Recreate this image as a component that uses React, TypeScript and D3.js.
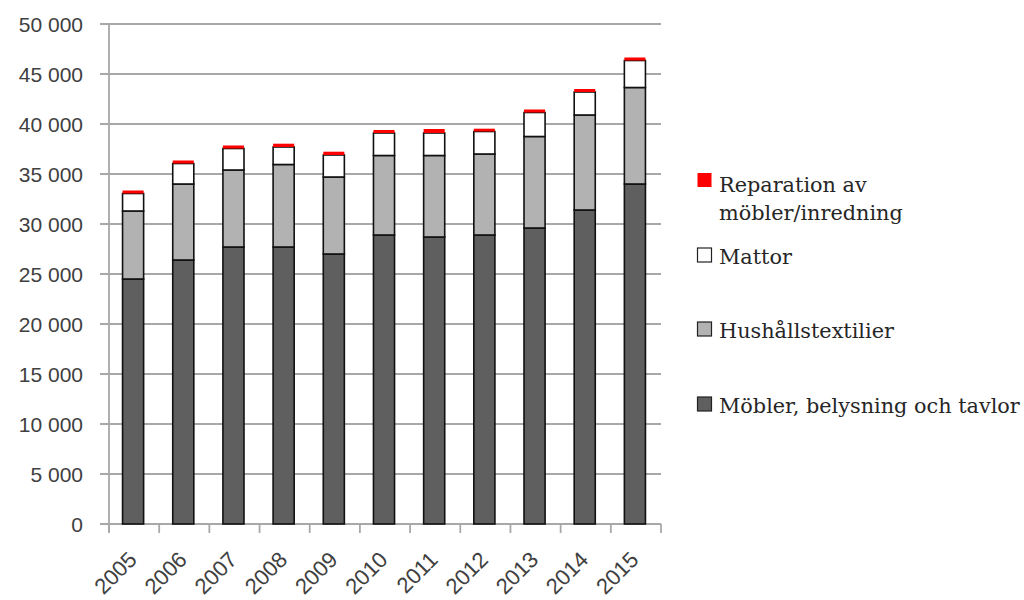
import React from "react";
import * as d3 from "d3";

const years = ["2005", "2006", "2007", "2008", "2009", "2010", "2011", "2012", "2013", "2014", "2015"];
const mobler = [24500, 26400, 27700, 27700, 27000, 28900, 28700, 28900, 29600, 31400, 34000];
const hushall = [6800, 7600, 7700, 8250, 7700, 7950, 8150, 8100, 9150, 9500, 9650];
const mattor = [1750, 2050, 2150, 1750, 2200, 2250, 2250, 2250, 2400, 2300, 2700];
const reparation = [300, 300, 300, 330, 330, 300, 400, 280, 300, 300, 300];
const yTicks = [0, 5000, 10000, 15000, 20000, 25000, 30000, 35000, 40000, 45000, 50000];

const seriesKeys = ["mobler", "hushall", "mattor", "reparation"];
const seriesLabels: Record<string, string[]> = {
  reparation: ["Reparation av", "möbler/inredning"],
  mattor: ["Mattor"],
  hushall: ["Hushållstextilier"],
  mobler: ["Möbler, belysning och tavlor"],
};
const seriesFill: Record<string, string> = {
  mobler: "#5f5f5f",
  hushall: "#b2b2b2",
  mattor: "#ffffff",
  reparation: "#ff0000",
};

export default function App() {
  const table = years.map((y, i) => ({
    year: y,
    mobler: mobler[i],
    hushall: hushall[i],
    mattor: mattor[i],
    reparation: reparation[i],
  }));
  const stacked = d3.stack<any>().keys(seriesKeys)(table);

  const x = d3.scaleBand<string>().domain(years).range([109, 661]).paddingInner(0).paddingOuter(0);
  const y = d3.scaleLinear().domain([0, 50000]).range([524, 24]);
  const barW = x.bandwidth() * 0.42;
  const fmt = (v: number) => d3.format(",")(v).replace(/,/g, " ");

  const legendItems = [
    { key: "reparation", box: 173, base: [192, 220] },
    { key: "mattor", box: 248, base: [264] },
    { key: "hushall", box: 322, base: [338] },
    { key: "mobler", box: 397, base: [413] },
  ];

  return (
    <svg width={1024} height={600} style={{ position: "absolute", left: 0, top: 0, background: "#fff" }}>
      <rect x={0} y={0} width={1024} height={600} fill="#fff" />
      {/* gridlines */}
      {yTicks.map((t) => (
        <g key={t}>
          <line x1={100} x2={661} y1={y(t)} y2={y(t)} stroke="#a8a8a8" strokeWidth={1.8} />
          <text
            x={83}
            y={y(t)}
            dy="0.36em"
            textAnchor="end"
            fontFamily="'Liberation Sans', Arial, sans-serif"
            fontSize={21}
            fill="#404040"
          >
            {fmt(t)}
          </text>
        </g>
      ))}
      {/* y axis line */}
      <line x1={109} x2={109} y1={24} y2={532} stroke="#a8a8a8" strokeWidth={1.8} />
      {/* x ticks */}
      {years.map((yr) => (
        <line key={yr} x1={x(yr)!} x2={x(yr)!} y1={524} y2={533} stroke="#a8a8a8" strokeWidth={1.8} />
      ))}
      <line x1={661} x2={661} y1={524} y2={533} stroke="#a8a8a8" strokeWidth={1.8} />
      {/* bars */}
      {stacked.map((layer) => (
        <g key={layer.key}>
          {layer.map((d, i) => {
            const cx = x(years[i])! + x.bandwidth() / 2 - 1;
            const top = y(d[1]);
            const h = y(d[0]) - y(d[1]);
            const isRed = layer.key === "reparation";
            return (
              <rect
                key={i}
                x={cx - barW / 2}
                y={top}
                width={barW}
                height={h}
                fill={seriesFill[layer.key]}
                stroke={isRed ? "none" : "#111"}
                strokeWidth={isRed ? 0 : 1.6}
              />
            );
          })}
        </g>
      ))}
      {/* x labels */}
      {years.map((yr) => {
        const cx = x(yr)! + x.bandwidth() / 2 + 4;
        return (
          <text
            key={yr}
            transform={`translate(${cx},${561}) rotate(-45)`}
            textAnchor="end"
            fontFamily="'Liberation Sans', Arial, sans-serif"
            fontSize={22}
            fill="#404040"
          >
            {yr}
          </text>
        );
      })}
      {/* legend */}
      {legendItems.map((it) => (
        <g key={it.key}>
          <rect
            x={697.5}
            y={it.box}
            width={14}
            height={14}
            fill={seriesFill[it.key]}
            stroke={it.key === "reparation" ? "none" : "#222"}
            strokeWidth={1.2}
          />
          {seriesLabels[it.key].map((line, j) => (
            <text
              key={j}
              x={719}
              y={it.base[j]}
              fontFamily="'DejaVu Serif', serif"
              fontSize={20.8}
              fill="#262626"
            >
              {line}
            </text>
          ))}
        </g>
      ))}
    </svg>
  );
}
